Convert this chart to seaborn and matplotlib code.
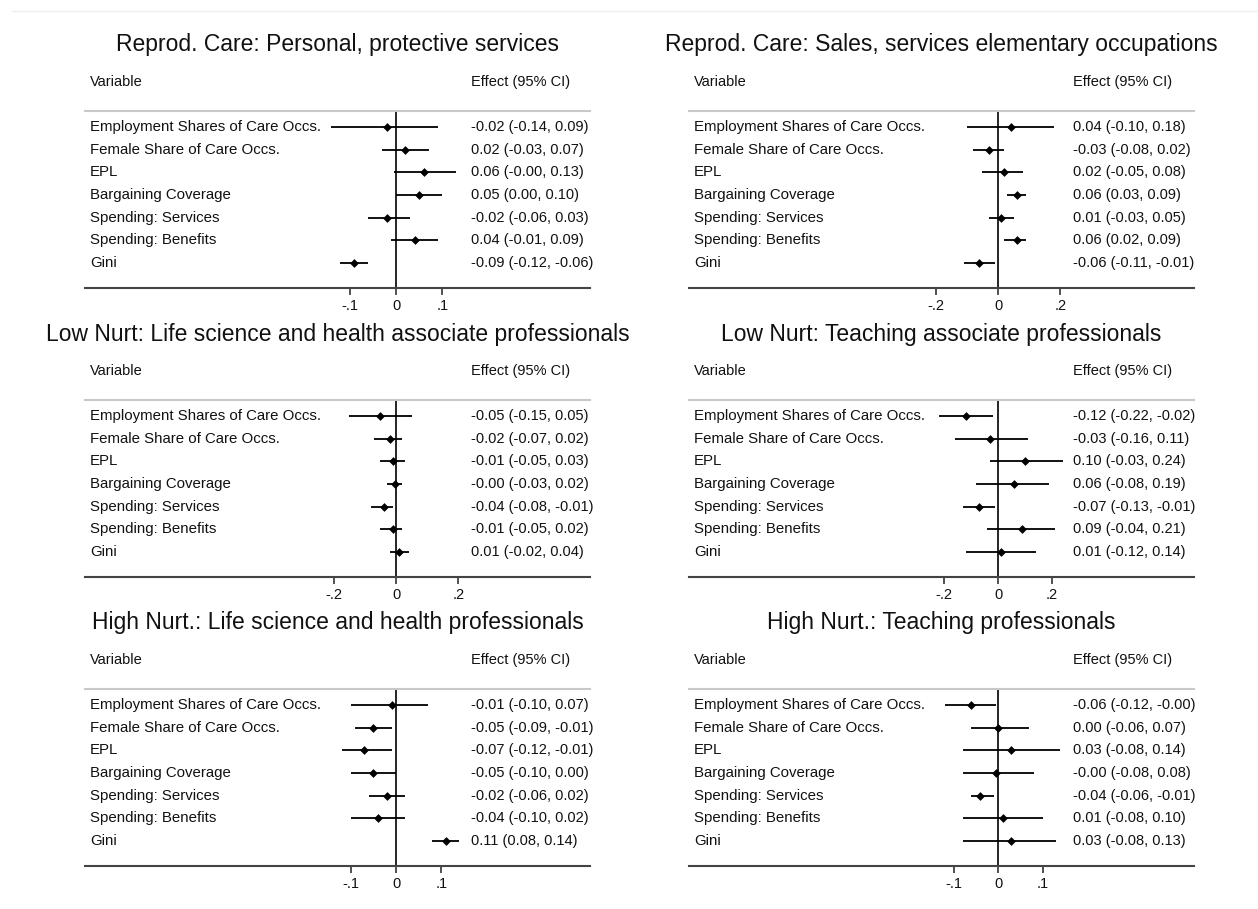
import numpy as np
import pandas as pd
import matplotlib
matplotlib.use("Agg")
import matplotlib.pyplot as plt
import seaborn as sns

variables = ["Employment Shares of Care Occs.", "Female Share of Care Occs.", "EPL",
             "Bargaining Coverage", "Spending: Services", "Spending: Benefits", "Gini"]

titles = ["Reprod. Care: Personal, protective services",
          "Reprod. Care: Sales, services elementary occupations",
          "Low Nurt: Life science and health associate professionals",
          "Low Nurt: Teaching associate professionals",
          "High Nurt.: Life science and health professionals",
          "High Nurt.: Teaching professionals"]

# point estimates and 95% CI bounds, one list per panel
est_p1 = [-0.02, 0.02, 0.06, 0.05, -0.02, 0.04, -0.09]
lo_p1 = [-0.14, -0.03, -0.004, 0.00, -0.06, -0.01, -0.12]
hi_p1 = [0.09, 0.07, 0.13, 0.10, 0.03, 0.09, -0.06]

est_p2 = [0.04, -0.03, 0.02, 0.06, 0.01, 0.06, -0.06]
lo_p2 = [-0.10, -0.08, -0.05, 0.03, -0.03, 0.02, -0.11]
hi_p2 = [0.18, 0.02, 0.08, 0.09, 0.05, 0.09, -0.01]

est_p3 = [-0.05, -0.02, -0.01, -0.004, -0.04, -0.01, 0.01]
lo_p3 = [-0.15, -0.07, -0.05, -0.03, -0.08, -0.05, -0.02]
hi_p3 = [0.05, 0.02, 0.03, 0.02, -0.01, 0.02, 0.04]

est_p4 = [-0.12, -0.03, 0.10, 0.06, -0.07, 0.09, 0.01]
lo_p4 = [-0.22, -0.16, -0.03, -0.08, -0.13, -0.04, -0.12]
hi_p4 = [-0.02, 0.11, 0.24, 0.19, -0.01, 0.21, 0.14]

est_p5 = [-0.01, -0.05, -0.07, -0.05, -0.02, -0.04, 0.11]
lo_p5 = [-0.10, -0.09, -0.12, -0.10, -0.06, -0.10, 0.08]
hi_p5 = [0.07, -0.01, -0.01, 0.00, 0.02, 0.02, 0.14]

est_p6 = [-0.06, 0.00, 0.03, -0.004, -0.04, 0.01, 0.03]
lo_p6 = [-0.12, -0.06, -0.08, -0.08, -0.06, -0.08, -0.08]
hi_p6 = [-0.004, 0.07, 0.14, 0.08, -0.01, 0.10, 0.13]

tick_vals = [[-0.1, 0, 0.1], [-0.2, 0, 0.2], [-0.2, 0, 0.2],
             [-0.2, 0, 0.2], [-0.1, 0, 0.1], [-0.1, 0, 0.1]]
tick_labels = [["-.1", "0", ".1"], ["-.2", "0", ".2"], ["-.2", "0", ".2"],
               ["-.2", "0", ".2"], ["-.1", "0", ".1"], ["-.1", "0", ".1"]]

panels = [(est_p1, lo_p1, hi_p1), (est_p2, lo_p2, hi_p2), (est_p3, lo_p3, hi_p3),
          (est_p4, lo_p4, hi_p4), (est_p5, lo_p5, hi_p5), (est_p6, lo_p6, hi_p6)]

# layout: zero position (fraction of panel width) and width of 0.1 (fraction)
zero_frac = [0.616, 0.612, 0.616, 0.612, 0.616, 0.612]
step_frac = [0.0918, 0.0617, 0.0618, 0.0535, 0.0897, 0.088]

sns.set_style("white")
plt.rcParams["font.family"] = ["Liberation Sans", "DejaVu Sans"]

W, H = 1258, 909
fig = plt.figure(figsize=(W / 100, H / 100), dpi=100)

# faint page border line at the top
fig.add_artist(plt.Line2D([12 / W, 1], [1 - 11 / H, 1 - 11 / H], color="#eeeeee", lw=1))

col_x = [(85, 590), (689, 1194)]
row_y = [(111, 288), (400, 577), (689, 866)]
fs = 10.5

for i, (est, lo, hi) in enumerate(panels):
    x0, x1 = col_x[i % 2]
    y0, y1 = row_y[i // 2]
    ax = fig.add_axes([x0 / W, 1 - y1 / H, (x1 - x0) / W, (y1 - y0) / H])
    hpx = y1 - y0

    df = pd.DataFrame({"var": variables, "est": est, "lo": lo, "hi": hi,
                       "row": np.arange(1, len(variables) + 1)})

    ax.hlines(df["row"], df["lo"], df["hi"], color="black", lw=1.3, zorder=3)
    sns.scatterplot(data=df, x="est", y="row", marker="D", s=20, color="black",
                    linewidth=0, ax=ax, zorder=4)
    ax.axvline(0, color="black", lw=1.2, zorder=2)

    xl = -zero_frac[i] / (10 * step_frac[i])
    xr = (1 - zero_frac[i]) / (10 * step_frac[i])
    ax.set_xlim(xl, xr)
    ax.set_ylim(8.1, 0.29)

    text_x = 0.764 if i % 2 == 0 else 0.761
    for _, r in df.iterrows():
        ax.text(0.01, r["row"], r["var"], transform=ax.get_yaxis_transform(),
                ha="left", va="center", fontsize=10.8, color="#111111")
        ax.text(text_x, r["row"], f"{r['est']:.2f} ({r['lo']:.2f}, {r['hi']:.2f})",
                transform=ax.get_yaxis_transform(), ha="left", va="center",
                fontsize=fs, color="#111111")

    ax.text(0.01, 1 + 29 / hpx, "Variable", transform=ax.transAxes,
            ha="left", va="center", fontsize=fs, color="#111111")
    ax.text(text_x, 1 + 29 / hpx, "Effect (95% CI)", transform=ax.transAxes,
            ha="left", va="center", fontsize=fs, color="#111111")
    ax.text(0.5, 1 + 66 / hpx, titles[i], transform=ax.transAxes,
            ha="center", va="center", fontsize=16.5, color="#111111")

    ax.set_xticks(tick_vals[i])
    ax.set_xticklabels(tick_labels[i], fontsize=fs)
    ax.set_yticks([])
    ax.set_xlabel("")
    ax.set_ylabel("")
    ax.tick_params(axis="x", bottom=True, length=5, width=1.2, color="#333333",
                   pad=3, labelcolor="#111111")
    for s in ["left", "right"]:
        ax.spines[s].set_visible(False)
    ax.spines["top"].set_color("#c8c8c8")
    ax.spines["top"].set_linewidth(1.5)
    ax.spines["bottom"].set_color("#444444")
    ax.spines["bottom"].set_linewidth(1.5)

fig.savefig("out.png", dpi=100, facecolor="white")
